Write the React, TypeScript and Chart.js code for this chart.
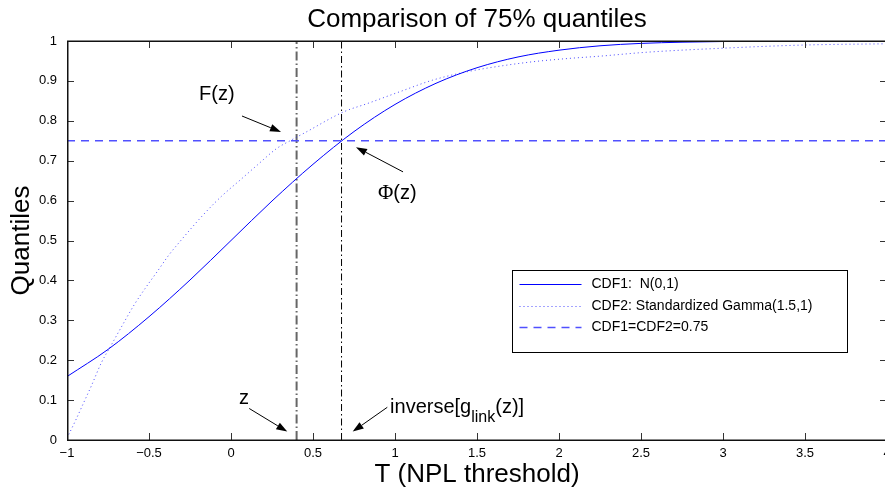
import React, { useEffect, useRef } from "react";
import { Chart, registerables } from "chart.js";
Chart.register(...registerables);

// ---- data ----
const normX = [-1, -0.75, -0.5, -0.25, 0, 0.25, 0.5, 0.75, 1, 1.25, 1.5, 1.75, 2, 2.25, 2.5, 2.75, 3, 3.25, 3.5, 3.75, 4];
const normY = [0.159, 0.227, 0.309, 0.401, 0.5, 0.599, 0.691, 0.773, 0.841, 0.894, 0.933, 0.96, 0.977, 0.988, 0.994, 0.997, 0.9987, 0.9994, 0.9998, 0.9999, 1.0];

const gammaX = [-1, -0.95, -0.9, -0.85, -0.79, -0.73, -0.67, -0.59, -0.52, -0.45, -0.38, -0.31, -0.17, -0.06, 0.06, 0.16, 0.28, 0.36, 0.45, 0.69, 0.83, 1.03, 1.23, 1.44, 1.64, 1.84, 2.05, 2.25, 2.54, 3.0, 3.5, 4.0];
const gammaY = [0.005, 0.047, 0.092, 0.137, 0.194, 0.238, 0.282, 0.339, 0.382, 0.422, 0.463, 0.498, 0.564, 0.61, 0.653, 0.689, 0.731, 0.75, 0.77, 0.823, 0.843, 0.873, 0.902, 0.923, 0.937, 0.948, 0.956, 0.962, 0.972, 0.982, 0.99, 0.993];

const zValue = 0.4;
const inverseValue = 0.674;
const quantileLevel = 0.75;

const xTickValues = [-1, -0.5, 0, 0.5, 1, 1.5, 2, 2.5, 3, 3.5, 4];
const yTickValues = [0, 0.1, 0.2, 0.3, 0.4, 0.5, 0.6, 0.7, 0.8, 0.9, 1];

const legendLabels = ["CDF1:  N(0,1)", "CDF2: Standardized Gamma(1.5,1)", "CDF1=CDF2=0.75"];

const titleText = "Comparison of 75% quantiles";
const xTitle = "T (NPL threshold)";
const yTitle = "Quantiles";

// annotation anchors in data units
const arrowFrom = [[0.067, 0.812], [1.049, 0.672], [0.111, 0.079], [0.953, 0.082]];
const arrowTo = [[0.305, 0.772], [0.762, 0.734], [0.343, 0.021], [0.742, 0.021]];
const labelAnchors = [[-0.195, 0.852], [0.896, 0.604], [0.049, 0.09], [0.97, 0.068]];

const SANS = "'Liberation Sans', Arial, Helvetica, sans-serif";
const SERIF = "'Liberation Serif', 'Times New Roman', serif";

const fmt = (v: number) => (v < 0 ? "\u2212" + String(Math.abs(v)) : String(v));

const framePlugin = {
  id: "frame",
  afterDatasetsDraw(chart: any) {
    const { ctx, chartArea: ca, scales } = chart;
    const xs = scales.x, ys = scales.y;
    ctx.save();
    ctx.strokeStyle = "#333";
    ctx.lineWidth = 1;
    const tl = 7;
    xTickValues.forEach((v) => {
      const px = Math.round(xs.getPixelForValue(v)) + 0.5;
      ctx.beginPath();
      ctx.moveTo(px, ca.bottom); ctx.lineTo(px, ca.bottom - tl);
      ctx.moveTo(px, ca.top); ctx.lineTo(px, ca.top + tl);
      ctx.stroke();
    });
    yTickValues.forEach((v) => {
      const py = Math.round(ys.getPixelForValue(v)) + 0.5;
      ctx.beginPath();
      ctx.moveTo(ca.left, py); ctx.lineTo(ca.left + tl, py);
      ctx.moveTo(ca.right, py); ctx.lineTo(ca.right - tl, py);
      ctx.stroke();
    });
    ctx.strokeStyle = "#111";
    ctx.lineWidth = 1.5;
    ctx.strokeRect(ca.left + 0.75, ca.top + 0.25, ca.right - ca.left - 0.75, ca.bottom - ca.top);
    ctx.restore();
  },
};

const legendPlugin = {
  id: "customLegend",
  afterDatasetsDraw(chart: any) {
    const { ctx, chartArea: ca } = chart;
    const left = ca.left + 445.5;
    const top = 270.5;
    const w = 335;
    const h = 82;
    ctx.save();
    ctx.fillStyle = "#fff";
    ctx.fillRect(left, top, w, h);
    ctx.strokeStyle = "#000";
    ctx.lineWidth = 1;
    ctx.strokeRect(left, top, w, h);
    const styles = chart.data.datasets.slice(0, 3);
    const rowY = [top + 14, top + 36, top + 57];
    ctx.font = `14px ${SANS}`;
    ctx.textBaseline = "middle";
    styles.forEach((ds: any, i: number) => {
      ctx.beginPath();
      ctx.strokeStyle = ds.borderColor;
      ctx.lineWidth = ds.borderWidth;
      ctx.setLineDash(ds.borderDash || []);
      ctx.moveTo(left + 7, rowY[i]);
      ctx.lineTo(left + 69, rowY[i]);
      ctx.stroke();
      ctx.setLineDash([]);
      ctx.fillStyle = "#000";
      ctx.fillText(legendLabels[i], left + 79, rowY[i]);
    });
    ctx.restore();
  },
};

const drawArrow = (ctx: any, x0: number, y0: number, x1: number, y1: number) => {
  const ang = Math.atan2(y1 - y0, x1 - x0);
  const len = 11, hw = 3.8;
  const bx = x1 - len * Math.cos(ang), by = y1 - len * Math.sin(ang);
  ctx.beginPath();
  ctx.moveTo(x0, y0);
  ctx.lineTo(bx, by);
  ctx.stroke();
  ctx.beginPath();
  ctx.moveTo(x1, y1);
  ctx.lineTo(bx + hw * Math.sin(ang), by - hw * Math.cos(ang));
  ctx.lineTo(bx - hw * Math.sin(ang), by + hw * Math.cos(ang));
  ctx.closePath();
  ctx.fill();
};

const annotationPlugin = {
  id: "annotations",
  afterDatasetsDraw(chart: any) {
    const { ctx, scales } = chart;
    const xs = scales.x, ys = scales.y;
    const P = (p: number[]) => [xs.getPixelForValue(p[0]), ys.getPixelForValue(p[1])];
    ctx.save();
    ctx.strokeStyle = "#000";
    ctx.fillStyle = "#000";
    ctx.lineWidth = 1;
    arrowFrom.forEach((f, i) => {
      const a = P(f), b = P(arrowTo[i]);
      drawArrow(ctx, a[0], a[1], b[0], b[1]);
    });
    ctx.textBaseline = "alphabetic";
    ctx.textAlign = "left";
    // F(z)
    let [x, y] = P(labelAnchors[0]);
    ctx.font = `20px ${SANS}`;
    ctx.fillText("F(z)", x, y);
    // Φ(z)
    [x, y] = P(labelAnchors[1]);
    ctx.font = `21px ${SERIF}`;
    ctx.fillText("\u03A6", x, y);
    let w = ctx.measureText("\u03A6").width;
    ctx.font = `20px ${SANS}`;
    ctx.fillText("(z)", x + w, y);
    // z
    [x, y] = P(labelAnchors[2]);
    ctx.fillText("z", x, y);
    // inverse[g_link(z)]
    [x, y] = P(labelAnchors[3]);
    ctx.font = `20px ${SANS}`;
    ctx.fillText("inverse[g", x, y);
    w = ctx.measureText("inverse[g").width;
    ctx.font = `16px ${SANS}`;
    ctx.fillText("link", x + w, y + 9);
    const w2 = ctx.measureText("link").width;
    ctx.font = `20px ${SANS}`;
    ctx.fillText("(z)]", x + w + w2, y);
    ctx.restore();
  },
};

export default function App() {
  const ref = useRef<HTMLCanvasElement | null>(null);
  useEffect(() => {
    if (!ref.current) return;
    const pts = (xs: number[], ys: number[]) => xs.map((x, i) => ({ x, y: ys[i] }));
    const chart = new Chart(ref.current, {
      type: "line",
      data: {
        datasets: [
          {
            label: legendLabels[0],
            data: pts(normX, normY),
            borderColor: "#0000ff",
            borderWidth: 1,
            pointRadius: 0,
            cubicInterpolationMode: "monotone",
            fill: false,
          },
          {
            label: legendLabels[1],
            data: pts(gammaX, gammaY),
            borderColor: "rgba(40,40,255,0.85)",
            borderWidth: 1,
            borderDash: [1, 3],
            pointRadius: 0,
            cubicInterpolationMode: "monotone",
            fill: false,
          },
          {
            label: legendLabels[2],
            data: [{ x: -1, y: quantileLevel }, { x: 4, y: quantileLevel }],
            borderColor: "#5050ff",
            borderWidth: 1.5,
            borderDash: [8, 6],
            pointRadius: 0,
            fill: false,
          },
          {
            label: "z",
            data: [{ x: zValue, y: 0 }, { x: zValue, y: 1 }],
            borderColor: "#666",
            borderWidth: 2,
            borderDash: [9, 3, 1.5, 3],
            pointRadius: 0,
            fill: false,
          },
          {
            label: "inverse",
            data: [{ x: inverseValue, y: 0 }, { x: inverseValue, y: 1 }],
            borderColor: "#000",
            borderWidth: 1,
            borderDash: [7, 3, 1.5, 3],
            pointRadius: 0,
            fill: false,
          },
        ],
      },
      options: {
        animation: false,
        responsive: false,
        devicePixelRatio: 1,
        layout: { padding: 0 },
        plugins: {
          legend: { display: false },
          tooltip: { enabled: false },
          title: {
            display: true,
            text: titleText,
            fullSize: false,
            color: "#000",
            font: { family: SANS, size: 26, weight: "normal" },
            padding: { top: 4, bottom: 5.8 },
          },
        },
        scales: {
          x: {
            type: "linear",
            min: -1,
            max: 4,
            grid: { display: false, drawTicks: false },
            border: { display: false },
            afterBuildTicks: (s: any) => {
              s.ticks = xTickValues.map((v) => ({ value: v }));
            },
            afterFit: (s: any) => {
              s.height = 52;
              s.paddingLeft = 0; s.paddingRight = 0; s.paddingTop = 0; s.paddingBottom = 0;
            },
            ticks: {
              autoSkip: false,
              maxRotation: 0,
              padding: 6,
              color: "#000",
              font: { family: SANS, size: 13 },
              callback: (v: any) => fmt(Number(v)),
            },
            title: {
              display: true,
              text: xTitle,
              color: "#000",
              font: { family: SANS, size: 26 },
              padding: { top: 0, bottom: 2 },
            },
          },
          y: {
            type: "linear",
            min: 0,
            max: 1,
            grid: { display: false, drawTicks: false },
            border: { display: false },
            afterBuildTicks: (s: any) => {
              s.ticks = yTickValues.map((v) => ({ value: v }));
            },
            afterFit: (s: any) => {
              s.width = 67;
              s.paddingLeft = 0; s.paddingRight = 0; s.paddingTop = 0; s.paddingBottom = 0;
            },
            ticks: {
              autoSkip: false,
              padding: 10,
              color: "#000",
              font: { family: SANS, size: 13 },
              callback: (v: any) => fmt(Number(v)),
            },
            title: {
              display: true,
              text: yTitle,
              color: "#000",
              font: { family: SANS, size: 26 },
              padding: { top: 6, bottom: 0 },
            },
          },
        },
      } as any,
      plugins: [framePlugin, legendPlugin, annotationPlugin],
    });
    return () => chart.destroy();
  }, []);
  return (
    <div style={{ position: "fixed", left: 0, top: 0, width: 885, height: 492, overflow: "hidden", background: "#fff" }}>
      <canvas ref={ref} width={887} height={492} style={{ display: "block" }} />
    </div>
  );
}
